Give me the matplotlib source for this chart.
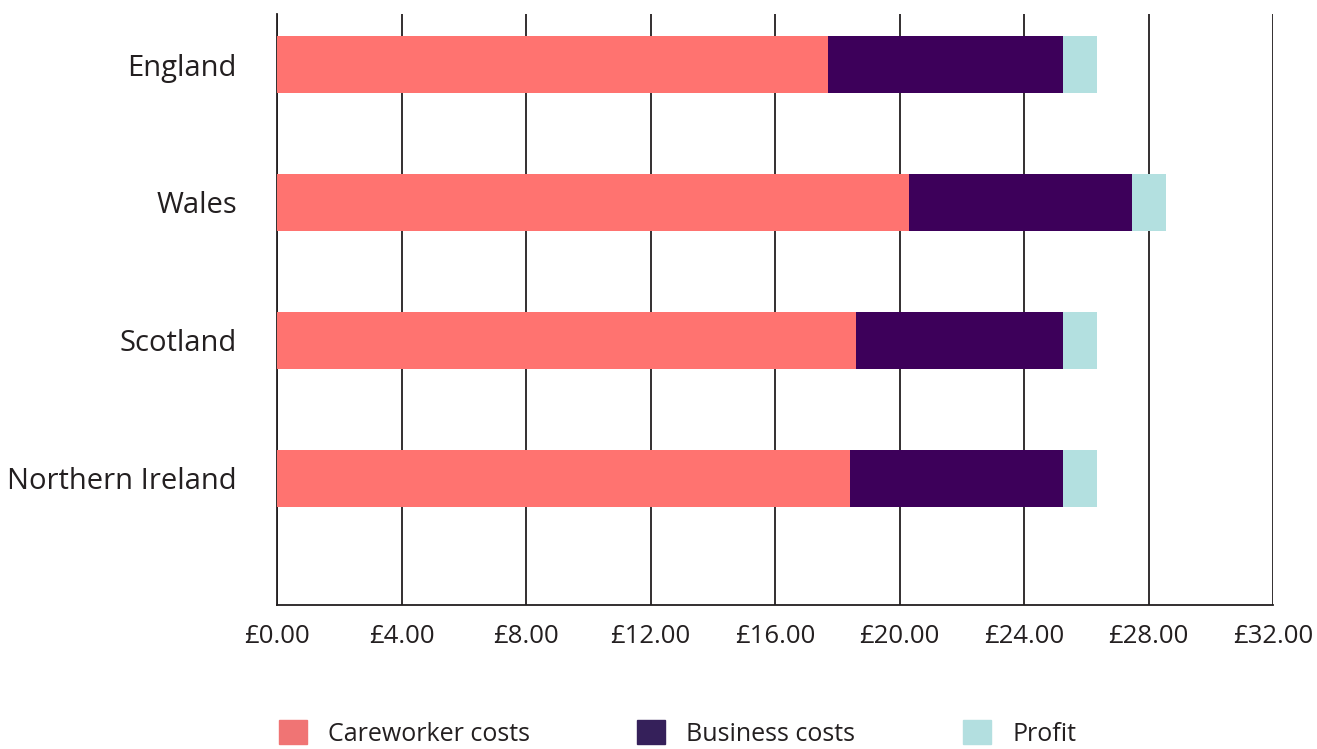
import matplotlib.pyplot as plt
from matplotlib.patches import Patch
from matplotlib.ticker import FuncFormatter

regions = ["England", "Wales", "Scotland", "Northern Ireland"]
careworker = [17.71, 20.31, 18.61, 18.42]
business = [7.55, 7.17, 6.65, 6.84]
profit = [1.09, 1.09, 1.09, 1.09]

series_names = ["Careworker costs", "Business costs", "Profit"]
colors = ["#FF7370", "#3D005A", "#B3E0E0"]
legend_colors = ["#F07474", "#35205A", "#B3DFE0"]


def main():
    plt.rcParams["font.family"] = ["Open Sans", "DejaVu Sans"]

    fig = plt.figure(figsize=(13.17, 7.49), dpi=100)
    ax = fig.add_axes([277 / 1317, 1 - 605 / 749, 996 / 1317, 591 / 749])

    pos = list(range(len(regions)))
    left = [0.0] * len(regions)
    for vals, c in zip([careworker, business, profit], colors):
        ax.barh(pos, vals, left=left, height=0.41, color=c, zorder=3)
        left = [a + b for a, b in zip(left, vals)]

    ax.set_xlim(0, 32)
    ax.set_ylim(3.917, -0.366)
    ax.set_xticks(range(0, 33, 4))
    ax.xaxis.set_major_formatter(FuncFormatter(lambda v, p: f"£{v:.2f}"))
    ax.set_yticks(pos)
    ax.set_yticklabels(regions)
    ax.tick_params(axis="both", length=0, colors="#231F20")
    ax.tick_params(axis="x", labelsize=18.5, pad=14)
    ax.tick_params(axis="y", labelsize=21, pad=29)

    ax.grid(axis="x", color="#231F20", linewidth=1.3, zorder=0)
    for side in ["top", "right"]:
        ax.spines[side].set_visible(False)
    for side in ["left", "bottom"]:
        ax.spines[side].set_color("#231F20")
        ax.spines[side].set_linewidth(1.3)

    handles = [Patch(color=c, label=n) for c, n in zip(legend_colors, series_names)]
    fig.legend(handles=handles, loc="lower left", bbox_to_anchor=(256 / 1317, -0.027),
               ncol=3, frameon=False, fontsize=18, handlelength=1.12, handleheight=1.12,
               handletextpad=0.85, columnspacing=4.3, labelcolor="#231F20")

    fig.savefig("out.png", dpi=100)


if __name__ == "__main__":
    main()
